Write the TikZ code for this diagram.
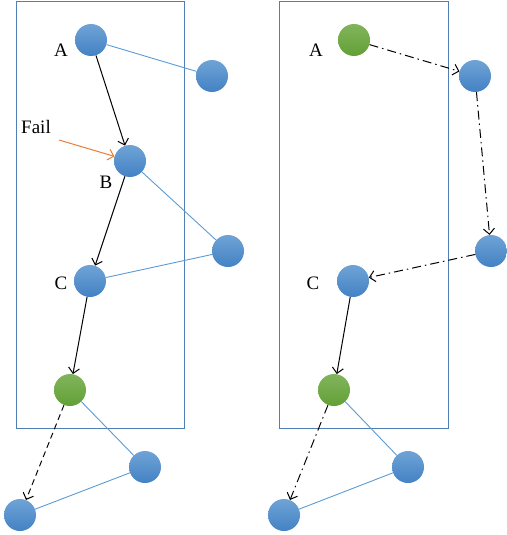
\documentclass[tikz,border=0pt]{standalone}
\usepackage{fontspec}
\setmainfont{Liberation Serif}
\usetikzlibrary{arrows.meta}
\definecolor{frame}{HTML}{4F7FB5}
\definecolor{edge}{HTML}{5B9BD5}
\definecolor{vtxtop}{HTML}{6FA3D6}
\definecolor{vtxbot}{HTML}{4382C4}
\definecolor{goaltop}{HTML}{82B45C}
\definecolor{goalbot}{HTML}{62A036}
\definecolor{failc}{HTML}{ED7D31}

\begin{document}
\begin{tikzpicture}[x=1pt, y=-1pt,
        every node/.style={font=\fontsize{19}{22}\selectfont},
        vtx/.style={circle, minimum size=32pt, inner sep=0pt, top color=vtxtop, bottom color=vtxbot},
        goal/.style={circle, minimum size=32pt, inner sep=0pt, top color=goaltop, bottom color=goalbot},
        lbl/.style={inner sep=0pt},
        pane/.style={draw=frame, line width=1pt},
        link/.style={draw=edge, line width=0.9pt},
        arr/.style={-{Straight Barb[length=5.5pt, width=11pt]}, line width=1pt},
        darr/.style={arr, dash pattern=on 6pt off 4pt},
        ddarr/.style={arr, dash pattern=on 9pt off 4pt on 1.5pt off 4pt},
      ]
      \useasboundingbox (0,0) rectangle (506,535);

      % left pane
      \draw[pane] (16,2) rectangle (184,428);
      \node[vtx]  (a1) at (91,40)  {};
      \node[vtx]  (n1) at (212,76) {};
      \node[vtx]  (b1) at (130,161) {};
      \node[vtx]  (n2) at (228,251) {};
      \node[vtx]  (c1) at (90,281) {};
      \node[goal] (g1) at (70,390) {};
      \node[vtx]  (n3) at (145,467) {};
      \node[vtx]  (n4) at (20,515) {};
      \node[lbl] (la1) at (61,50)  {A};
      \node[lbl] (lb1) at (106,182) {B};
      \node[lbl] (lc1) at (61,283) {C};
      \node[lbl] (lf)  at (36,127) {Fail};
      \coordinate (failtail) at (59,140);

      \draw[link] (a1) -- (n1);
      \draw[link] (b1) -- (n2);
      \draw[link] (c1) -- (n2);
      \draw[link] (g1) -- (n3);
      \draw[link] (n3) -- (n4);
      \draw[arr] (a1) -- (b1);
      \draw[arr] (b1) -- (c1);
      \draw[arr] (c1) -- (g1);
      \draw[darr] (g1) -- (n4);
      \draw[arr, failc] (failtail) -- (b1);

      % right pane
      \draw[pane] (279,2) rectangle (448,428);
      \node[goal] (a2) at (354,40)  {};
      \node[vtx]  (m1) at (475,76)  {};
      \node[vtx]  (m2) at (491,251) {};
      \node[vtx]  (c2) at (353,281) {};
      \node[goal] (g2) at (334,390) {};
      \node[vtx]  (m3) at (408,467) {};
      \node[vtx]  (m4) at (284,515) {};
      \node[lbl] (la2) at (316,50)  {A};
      \node[lbl] (lc2) at (313,283) {C};

      \draw[link] (g2) -- (m3);
      \draw[link] (m3) -- (m4);
      \draw[ddarr] (a2) -- (m1);
      \draw[ddarr] (m1) -- (m2);
      \draw[ddarr] (m2) -- (c2);
      \draw[arr] (c2) -- (g2);
      \draw[ddarr] (g2) -- (m4);
    \end{tikzpicture}
\end{document}
